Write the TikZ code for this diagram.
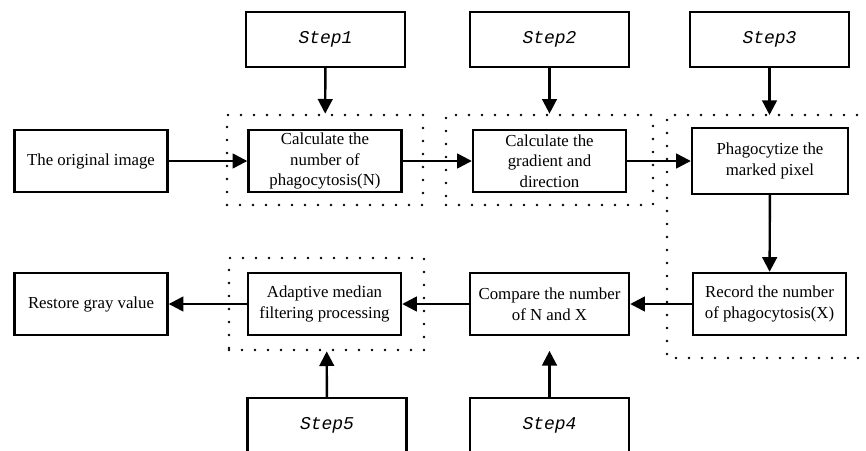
\documentclass[tikz,border=0pt]{standalone}
\usepackage{fontspec}
\setmainfont{Liberation Serif}
\newfontfamily\stepfont{Liberation Mono}
\usetikzlibrary{arrows.meta}

\begin{document}
\begin{tikzpicture}[x=0.75pt,y=-0.75pt,
        box/.style={draw, line width=1.8pt, minimum width=114.75pt, minimum height=46.5pt,
            inner sep=1pt, align=center, font=\fontsize{12.6}{15.5}\selectfont},
        stepbox/.style={draw, line width=1.8pt, minimum width=119.25pt, minimum height=41.25pt,
            font=\stepfont\itshape\fontsize{13.5}{15}\selectfont},
        dots/.style={line width=2pt, line cap=round, dash pattern=on 0pt off 9.75pt},
        area/.style={dots, draw, inner sep=0pt, minimum width=147pt, minimum height=67.5pt},
        arr/.style={line width=1.8pt, -{Triangle[length=11pt,width=11pt]}}]

    \useasboundingbox (0,0) rectangle (866,450);

    % steps
    \node[stepbox] (step1) at (325.5,39.5) {Step1};
    \node[stepbox] (step2) at (549.5,39.5) {Step2};
    \node[stepbox] (step3) at (769.5,39.5) {Step3};
    \node[stepbox] (step4) at (549.5,425.5) {Step4};
    \node[stepbox] (step5) at (327,425.5) {Step5};

    % dotted areas
    \node[area] (area1) at (325,160) {};
    \node[area, minimum width=155.25pt] (area2) at (549.5,160) {};
    \node[area, minimum width=146.25pt, minimum height=69pt] (area5) at (326.5,304) {};
    \draw[dots] (870,115) -- (667,115) -- (667,358) -- (870,358);
    \coordinate (area3) at (769.5,115);

    % first row
    \node[box] (orig) at (91,161) {The original image};
    \node[box] (calcn) at (325,161) {Calculate the\\number of\\phagocytosis(N)};
    \node[box] (grad) at (549.5,161) {Calculate the\\gradient and\\direction};
    \node[box, minimum width=117pt, minimum height=49.5pt] (phago) at (770,161) {Phagocytize the\\marked pixel};

    % second row
    \node[box] (record) at (769.5,304) {Record the number\\of phagocytosis(X)};
    \node[box, minimum width=119.25pt] (cmp) at (549.5,304) {Compare the number\\of N and X};
    \node[box] (adapt) at (324.5,304) {Adaptive median\\filtering processing};
    \node[box] (restore) at (91,304) {Restore gray value};

    \draw[arr] (orig) -- (calcn);
    \draw[arr] (calcn) -- (grad);
    \draw[arr] (grad) -- (phago);
    \draw[arr] (phago) -- (record);
    \draw[arr] (record) -- (cmp);
    \draw[arr] (cmp) -- (adapt);
    \draw[arr] (adapt) -- (restore);

    \draw[arr] (step1) -- (area1);
    \draw[arr] (step2) -- (area2);
    \draw[arr] (step3) -- (area3);
    \draw[arr, shorten >=11pt] (step4) -- (cmp);
    \draw[arr] (step5) -- (area5);
\end{tikzpicture}
\end{document}
